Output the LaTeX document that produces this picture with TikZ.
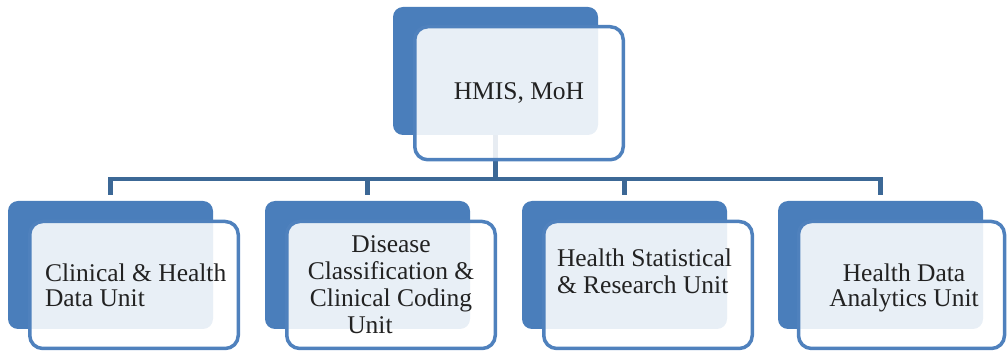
\documentclass[tikz,border=0pt]{standalone}
\usepackage{fontspec}
\setmainfont{Liberation Serif}
\definecolor{backblue}{RGB}{74,126,187}
\definecolor{rimblue}{RGB}{79,129,189}
\definecolor{linkblue}{RGB}{60,104,150}
\definecolor{inktext}{RGB}{34,34,34}
\begin{document}
\begin{tikzpicture}[x=1pt,y=-1pt,
  backbox/.style={rectangle, rounded corners=10pt, fill=backblue,
    minimum width=205pt, minimum height=128pt, inner sep=0pt, outer sep=0pt},
  frontbox/.style={rectangle, rounded corners=13pt, draw=rimblue, line width=3.5pt,
    fill=white, fill opacity=0.88, minimum width=208.5pt, minimum height=127pt,
    inner sep=0pt, outer sep=0pt},
  link/.style={draw=linkblue, line width=4.5pt, line join=miter},
  unittext/.style={text=inktext, inner sep=0pt, outer sep=0pt,
    font=\fontsize{25.5}{27}\selectfont}]
\useasboundingbox (0,0) rectangle (1007,352);

% back panels
\node[backbox] (hb) at (495.5,71) {};
\node[backbox] (b1) at (110.5,265) {};
\node[backbox] (b2) at (367.5,265) {};
\node[backbox] (b3) at (624.5,265) {};
\node[backbox] (b4) at (880.5,265) {};

% bus line and drops
\coordinate (bus) at (0,179);
\draw[link] (hb.south) -- (hb.south |- bus);
\draw[link] ([yshift=6pt]b1.north) -- (b1.north |- bus) -- (b4.north |- bus) -- ([yshift=6pt]b4.north);
\draw[link] ([yshift=6pt]b2.north) -- (b2.north |- bus);
\draw[link] ([yshift=6pt]b3.north) -- (b3.north |- bus);

% translucent front panels
\node[frontbox, minimum height=133pt] (hf) at (519,93.25) {};
\node[frontbox] (f1) at (134,285) {};
\node[frontbox] (f2) at (391,285) {};
\node[frontbox] (f3) at (648,285) {};
\node[frontbox, minimum width=206pt] (f4) at (901.5,285) {};

% labels (the base anchor sits on the last line)
\node[unittext, anchor=base] (ht) at (519,100) {HMIS, MoH};
\node[unittext, anchor=base west, align=left,
  font=\fontsize{25.5}{25}\selectfont] (t1) at (45,307) {Clinical \& Health\\Data Unit};
\node[unittext, anchor=base, align=center] (t2) at (391,334)
  {Disease\\Classification \&\\Clinical Coding\\Unit\hspace*{42pt}};
\node[unittext, anchor=base west, align=left] (t3) at (557,294)
  {Health Statistical\\\& Research Unit};
\node[unittext, anchor=base, align=center,
  font=\fontsize{25.5}{25}\selectfont] (t4) at (904,307) {Health Data\\Analytics Unit};
\end{tikzpicture}
\end{document}
